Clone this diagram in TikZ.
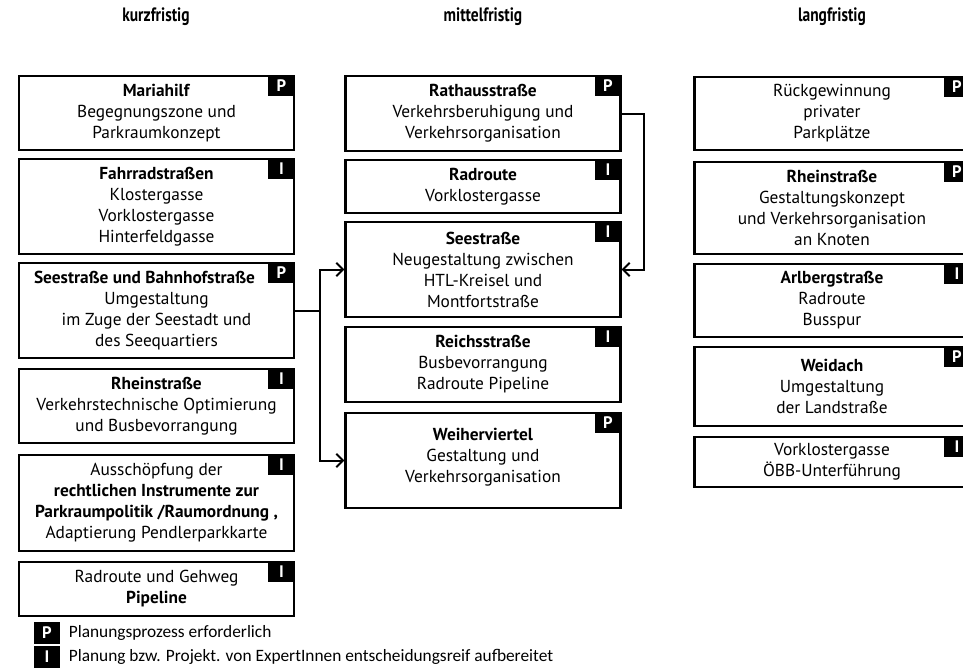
\documentclass[tikz,border=0pt]{standalone}
\usepackage{fontspec}
\setmainfont{PT Sans}
\newfontfamily\legendfont{Carlito}
\newfontfamily\headfont[FakeStretch=0.8]{PT Sans}
\usetikzlibrary{arrows.meta}

\begin{document}
\begin{tikzpicture}[x=0.75pt, y=-0.75pt,
    box/.style={draw, line width=1.8pt, minimum width=206pt, align=center, inner sep=0pt,
      font=\fontsize{13}{15.75}\selectfont},
    tagbox/.style={fill=black, text=white, inner sep=0pt, minimum width=20pt, minimum height=16pt,
      font=\bfseries\fontsize{12.5}{12.5}\selectfont},
    head/.style={font=\headfont\bfseries\fontsize{14.5}{16}\selectfont},
    arr/.style={line width=1.5pt, -{Straight Barb[length=5pt,width=10pt]}}]
    \useasboundingbox (0,0) rectangle (963,667);

    % Column headings
    \node[head] (hk) at (156,17) {kurzfristig};
    \node[head] (hm) at (483,17) {mittelfristig};
    \node[head] (hl) at (832,17) {langfristig};

    % kurzfristig
    \node[box, minimum height=55.5pt] (k1) at (156.5,113) {\textbf{Mariahilf}\\Begegnungszone und\\Parkraumkonzept};
    \node[box, minimum height=71.25pt] (k2) at (156.5,206.5) {\textbf{Fahrradstraßen}\\Klostergasse\\Vorklostergasse\\Hinterfeldgasse};
    \node[box, minimum height=71.25pt] (k3) at (156.5,310.5) {\textbf{Seestraße und Bahnhofstraße}\hspace*{18pt}\\Umgestaltung\\im Zuge der Seestadt und\\des Seequartiers};
    \node[box, minimum height=55.5pt] (k4) at (156.5,406) {\textbf{Rheinstraße}\\Verkehrstechnische Optimierung\\und Busbevorrangung};
    \node[box, minimum height=72pt] (k5) at (156.5,503) {Ausschöpfung der\\\textbf{rechtlichen Instrumente zur}\\\textbf{Parkraumpolitik /Raumordnung ,}\\Adaptierung Pendlerparkkarte};
    \node[box, minimum height=40.5pt] (k6) at (156.5,589) {Radroute und Gehweg\\\textbf{Pipeline}};

    % mittelfristig
    \node[box, minimum height=56.25pt] (m1) at (483,113.5) {\textbf{Rathausstraße}\\Verkehrsberuhigung und\\Verkehrsorganisation};
    \node[box, minimum height=39.75pt] (m2) at (483,186.5) {\textbf{Radroute}\\Vorklostergasse};
    \node[box, minimum height=71.25pt] (m3) at (483,269.5) {\textbf{Seestraße}\\Neugestaltung zwischen\\HTL-Kreisel und\\Montfortstraße};
    \node[box, minimum height=56.25pt] (m4) at (483,364.5) {\textbf{Reichsstraße}\\Busbevorrangung\\Radroute Pipeline};
    \node[box, minimum height=71.25pt] (m5) at (483,460.5) {\textbf{Weiherviertel}\\Gestaltung und\\Verkehrsorganisation\\[-7.5pt]};

    % langfristig
    \node[box, minimum height=54.75pt] (l1) at (832,113.5) {Rückgewinnung\\privater\\Parkplätze};
    \node[box, minimum height=69pt] (l2) at (832,208) {\textbf{Rheinstraße}\\Gestaltungskonzept\\und Verkehrsorganisation\\an Knoten};
    \node[box, minimum height=54.75pt] (l3) at (832,300.5) {\textbf{Arlbergstraße}\\Radroute\\Busspur};
    \node[box, minimum height=59.25pt] (l4) at (832,386.5) {\textbf{Weidach}\\Umgestaltung\\der Landstraße};
    \node[box, minimum height=37.5pt] (l5) at (832,462) {Vorklostergasse\\ÖBB-Unterführung};

    % P / I tags
    \foreach \n/\t in {k1/P,k2/I,k3/P,k4/I,k5/I,k6/I,m1/P,m2/I,m3/I,m4/I,m5/P,l1/P,l2/P,l3/I,l4/P,l5/I} {
      \node[tagbox, anchor=north east] (t\n) at (\n.north east) {\t};
    }

    % Connections
    \draw[arr] (k3.east) -- ++(25,0) |- (m3.west);
    \draw[arr] (k3.east) -- ++(25,0) |- (m5.west);
    \draw[arr] (m1.east) -- ++(22,0) |- (m3.east);

    % Legend
    \node[tagbox, minimum height=16pt] (lp) at (47,633) {P};
    \node[tagbox, minimum height=16pt, anchor=north] (li) at ([yshift=-1.5pt]lp.south) {I};
    \node[anchor=west, font=\legendfont\fontsize{13}{14}\selectfont, inner sep=0pt] (lpt) at ([xshift=6pt]lp.east) {Planungsprozess erforderlich};
    \node[anchor=west, font=\legendfont\fontsize{13}{14}\selectfont, inner sep=0pt] (lit) at ([xshift=6pt]li.east) {Planung bzw. Projekt. von ExpertInnen entscheidungsreif aufbereitet};
\end{tikzpicture}
\end{document}
